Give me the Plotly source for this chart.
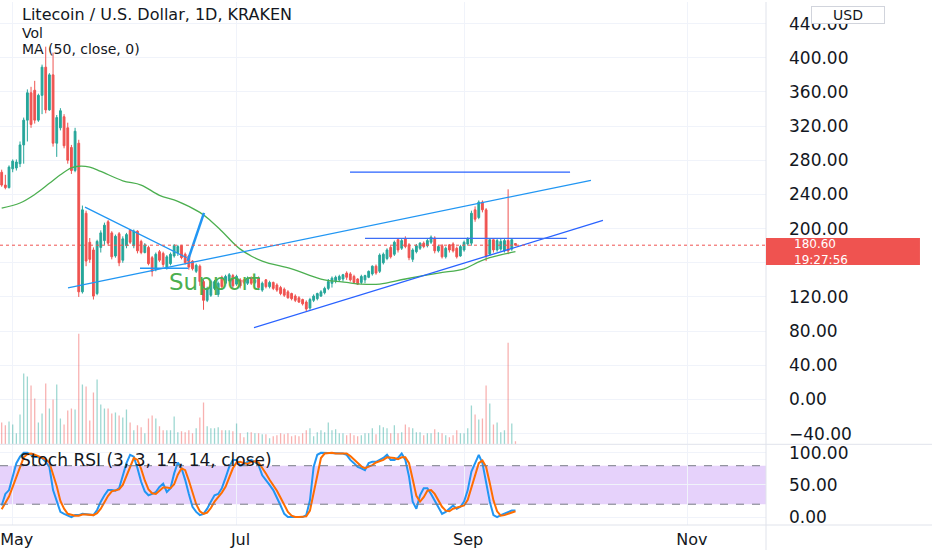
import pandas as pd
import plotly.graph_objects as go

# LTC/USD 1D (Kraken), 2021-04-28 .. 2021-09-15
open_ = [266, 251, 248,
         270, 271, 276, 298, 327, 359, 362, 327, 356, 389, 339, 380, 300, 318, 331, 318,
         295, 268, 300, 126, 218, 184, 175, 124, 178, 186, 208, 195, 168, 194, 163,
         180, 198, 180, 197, 185, 172, 178, 166, 152, 173, 171, 154, 159, 168, 172,
         180, 170, 168, 162, 150, 156, 138, 116, 122, 130, 123, 143, 136, 139, 145,
         135, 140, 140, 136, 142, 137, 142, 128, 140, 132, 137, 134, 131, 129, 126,
         124, 121, 119, 117, 114, 107, 116, 118, 121, 125, 130, 136, 139, 140, 141, 148,
         147, 144, 141, 137, 140, 143, 147, 156, 150, 160, 165, 178, 170, 187, 177,
         188, 181, 164, 173, 177, 183, 180, 184, 189, 174, 180, 167, 181, 182, 177, 168,
         175, 182, 183, 222, 213, 231, 222, 170, 187, 175, 176, 174, 186, 176, 182.5]
high = [269, 263, 274,
        281, 281, 302, 330, 363, 366, 373, 358, 392, 413, 382, 406, 333, 341, 334, 324,
        298, 318, 304, 227, 221, 189, 178, 187, 198, 207, 210, 197, 193, 196, 191,
        195, 199, 199, 198, 187, 183, 180, 168, 172, 175, 173, 169, 172, 182, 181,
        181, 172, 169, 163, 159, 158, 140, 132, 140, 140, 138, 145, 146, 148, 147,
        146, 142, 141, 144, 144, 141, 144, 138, 141, 139, 138, 136, 133, 131, 128,
        125, 123, 121, 118, 116, 119, 123, 125, 128, 132, 141, 144, 145, 146, 147, 150,
        149, 146, 142, 146, 146, 151, 157, 158, 171, 172, 177, 180, 186, 189, 188,
        191, 183, 177, 182, 184, 185, 188, 192, 191, 181, 182, 179, 182, 184, 179, 181,
        186, 190, 221, 226, 233, 233, 224, 189, 189, 188, 188, 188, 246, 189, 183]
low = [249, 246, 247,
       266, 268, 272, 276, 302, 318, 323, 325, 334, 335, 338, 296, 284, 315, 294, 276,
       264, 266, 120, 124, 156, 160, 117, 122, 172, 181, 180, 164, 166, 156, 160,
       177, 182, 177, 171, 170, 171, 157, 144, 150, 161, 155, 152, 157, 166, 168,
       164, 158, 152, 151, 148, 133, 105, 114, 120, 128, 120, 130, 134, 137, 130,
       133, 130, 135, 134, 134, 135, 128, 126, 130, 130, 128, 126, 122, 120, 118,
       116, 114, 113, 110, 103, 105, 114, 116, 120, 123, 128, 131, 136, 138, 138, 140,
       138, 136, 134, 135, 136, 142, 145, 146, 148, 158, 163, 165, 168, 172, 175,
       177, 163, 161, 171, 175, 177, 178, 182, 171, 172, 165, 165, 172, 172, 165, 167,
       173, 180, 180, 208, 211, 219, 162, 168, 172, 173, 174, 172, 170, 174, 180]
close = [251, 248, 272,
         279, 278, 298, 327, 359, 322, 327, 356, 389, 339, 380, 300, 330, 338, 297, 280,
         268, 314, 126, 222, 162, 164, 121, 185, 195, 204, 183, 167, 191, 160, 188,
         193, 184, 197, 174, 172, 181, 159, 150, 170, 163, 158, 167, 170, 180, 179,
         166, 160, 155, 153, 157, 138, 116, 130, 138, 138, 136, 132, 144, 146, 133,
         144, 133, 137, 142, 136, 140, 131, 136, 132, 137, 130, 128, 124, 122, 119,
         118, 116, 114, 112, 106, 117, 121, 124, 126, 130, 138, 142, 143, 144, 146, 143,
         140, 137, 135, 144, 145, 150, 156, 148, 169, 170, 175, 167, 184, 175, 186,
         179, 166, 175, 180, 183, 179, 186, 190, 174, 179, 167, 177, 175, 174, 167, 179,
         184, 188, 218, 211, 231, 222, 168, 187, 175, 186, 185, 186, 174, 187, 180.6]
volume = [22, 19, 23,  # 10k LTC
          20, 11, 30, 71, 68, 59, 46, 22, 31, 61, 36, 45, 60, 26, 20, 34,
          36, 35, 111, 60, 58, 24, 52, 65, 40, 36, 36, 31, 32, 29, 27,
          35, 22, 14, 19, 17, 11, 26, 29, 26, 18, 14, 14, 14, 28, 12,
          13, 12, 14, 11, 16, 27, 42, 18, 16, 16, 17, 14, 14, 14, 13,
          21, 11, 7, 12, 12, 11, 11, 10, 10, 6, 8, 9, 11, 10, 11,
          8, 9, 8, 11, 14, 16, 8, 12, 14, 12, 22, 14, 15, 11, 11, 9,
          11, 9, 8, 9, 11, 11, 16, 10, 19, 17, 16, 11, 19, 11, 12,
          20, 17, 16, 12, 12, 9, 11, 11, 15, 12, 11, 9, 7, 9, 14, 11,
          11, 16, 39, 30, 25, 26, 59, 41, 20, 22, 12, 14, 102, 21, 3]
stoch_k = [18, 36, 42,
           63, 84, 94, 100, 100, 97, 94, 93, 92, 86, 78, 42, 26, 8, 5, 3,
           0, 3, 3, 5, 4, 3, 3, 11, 24, 34, 42, 42, 41, 45, 63,
           84, 97, 94, 76, 55, 40, 34, 36, 39, 47, 52, 39, 45, 68, 85,
           76, 58, 36, 16, 8, 3, 5, 13, 24, 34, 36, 45, 61, 78, 89,
           89, 80, 82, 86, 89, 86, 81, 65, 58, 50, 42, 31, 18, 5, 0,
           0, 0, 0, 0, 3, 26, 78, 97, 100, 100, 100, 99, 99, 100, 99, 97,
           89, 84, 78, 76, 73, 84, 86, 86, 89, 92, 97, 89, 89, 92, 99,
           89, 63, 24, 13, 34, 45, 45, 36, 26, 16, 5, 8, 13, 18, 13, 16,
           24, 42, 71, 84, 97, 84, 52, 24, 3, 0, 3, 5, 8, 10, 10]
stoch_d = [12, 22, 32,
           47, 63, 80, 93, 98, 99, 97, 95, 93, 90, 85, 68, 48, 25, 13, 5,
           3, 2, 2, 4, 4, 4, 3, 6, 13, 23, 33, 40, 42, 43, 50,
           64, 81, 92, 89, 75, 57, 43, 37, 36, 41, 46, 46, 45, 51, 66,
           76, 73, 57, 37, 20, 9, 5, 7, 14, 24, 31, 38, 47, 61, 76,
           85, 86, 84, 83, 86, 87, 85, 77, 68, 58, 50, 41, 30, 18, 8,
           2, 0, 0, 0, 1, 10, 36, 67, 92, 99, 100, 100, 99, 99, 99, 99,
           95, 90, 84, 79, 76, 78, 81, 85, 87, 89, 93, 93, 92, 90, 93,
           93, 84, 59, 33, 24, 31, 41, 42, 36, 26, 16, 10, 9, 13, 15, 16,
           18, 27, 46, 66, 84, 88, 78, 53, 26, 9, 2, 3, 5, 8, 9]

# MA(50) read at a few dates along the green line
ma_dates = ["2021-04-28", "2021-05-03", "2021-05-07", "2021-05-11", "2021-05-14",
            "2021-05-17", "2021-05-19", "2021-05-22", "2021-05-25", "2021-05-31",
            "2021-06-05", "2021-06-10", "2021-06-15", "2021-06-21", "2021-06-24",
            "2021-06-27", "2021-07-02", "2021-07-08", "2021-07-16", "2021-07-24",
            "2021-07-31", "2021-08-04", "2021-08-09", "2021-08-16", "2021-08-25",
            "2021-09-01", "2021-09-05", "2021-09-08", "2021-09-15"]
ma50 = [224, 230, 240, 253, 263, 271, 273, 272, 267, 256, 251, 239, 232, 219, 209,
        197, 176, 162, 153, 141, 137, 135, 135, 141, 148, 153, 161, 166, 173]

# hand drawn trend lines (start, end) in date / price
tri_top = (["2021-05-20 16:48", "2021-06-17 09:50"], [225.1, 165.9])
tri_base = (["2021-06-04 16:30", "2021-06-17 20:25"], [153.6, 153.6])
breakout = (["2021-06-17 16:20", "2021-06-22 03:00"], [162.1, 218.4])
channel_up = (["2021-05-16 01:40", "2021-10-05 13:40"], [130.6, 256.6])
channel_low = (["2021-07-05 18:00", "2021-10-08 20:10"], [84.0, 209.6])
range_mid = (["2021-08-05", "2021-09-29"], [188.6, 188.6])
range_top = (["2021-07-31 22:00", "2021-09-29 21:00"], [266.2, 266.2])

price_ticks = list(range(-40, 441, 40))
stoch_ticks = [0, 50, 100]
countdown = "19:27:56"

dates = pd.date_range("2021-04-28", periods=len(close), freq="D")

UP = "#26a69a"
DOWN = "#ef5350"
TXT = "#131722"
GRID = "#f0f3fa"
BORDER = "#e0e3eb"
FONT = "DejaVu Sans"
x_range = ["2021-04-27 13:00", "2021-11-22 06:30"]

fig = go.Figure()

vol_colors = ["rgba(38,166,154,0.45)" if c >= o else "rgba(239,83,80,0.45)"
              for o, c in zip(open_, close)]
fig.add_trace(go.Bar(x=dates, y=volume, marker_color=vol_colors, marker_line_width=0,
                     width=0.35 * 86400000, xaxis="x", yaxis="y3", hoverinfo="skip"))

fig.add_trace(go.Candlestick(
    x=dates, open=open_, high=high, low=low, close=close, xaxis="x", yaxis="y",
    increasing=dict(line=dict(color=UP, width=1), fillcolor=UP),
    decreasing=dict(line=dict(color=DOWN, width=1), fillcolor=DOWN),
    whiskerwidth=0))

fig.add_trace(go.Scatter(x=ma_dates, y=ma50, mode="lines", line=dict(color="#4caf50", width=1.3),
                         line_shape="spline", xaxis="x", yaxis="y"))

for (xs, ys), col, w in [(tri_top, "#2196f3", 1.3), (tri_base, "#2196f3", 1.3),
                         (breakout, "#2196f3", 2.5), (channel_up, "#2196f3", 1.3),
                         (channel_low, "#2962ff", 1.3), (range_mid, "#3d6ef5", 1.3),
                         (range_top, "#2962ff", 1.3)]:
    fig.add_trace(go.Scatter(x=xs, y=ys, mode="lines", line=dict(color=col, width=w),
                             xaxis="x", yaxis="y"))

fig.add_trace(go.Scatter(x=dates, y=stoch_k, mode="lines", line=dict(color="#2196f3", width=2),
                         xaxis="x2", yaxis="y2"))
fig.add_trace(go.Scatter(x=dates, y=stoch_d, mode="lines", line=dict(color="#ff6d00", width=2),
                         xaxis="x2", yaxis="y2"))

last = close[-1]
shapes = [
    # stoch band
    dict(type="rect", xref="x2 domain", yref="y2", x0=0, x1=1, y0=20, y1=80,
         fillcolor="#e6d2fb", line_width=0, layer="below"),
    dict(type="line", xref="x2 domain", yref="y2", x0=0, x1=1, y0=80, y1=80,
         line=dict(color="#787b86", width=1, dash="8px,8px")),
    dict(type="line", xref="x2 domain", yref="y2", x0=0, x1=1, y0=20, y1=20,
         line=dict(color="#787b86", width=1, dash="8px,8px")),
    # last price line
    dict(type="line", xref="x domain", yref="y", x0=0, x1=1, y0=last, y1=last,
         line=dict(color=DOWN, width=1, dash="dot")),
    # pane borders
    dict(type="line", xref="paper", yref="paper", x0=0, x1=1.22, y0=0.1543, y1=0.1543,
         line=dict(color=BORDER, width=1)),
    dict(type="line", xref="paper", yref="paper", x0=0, x1=1.22, y0=0, y1=0,
         line=dict(color=BORDER, width=1)),
    dict(type="line", xref="paper", yref="paper", x0=1, x1=1, y0=-0.05, y1=1,
         line=dict(color=BORDER, width=1)),
    # price label box
    dict(type="rect", xref="paper", yref="y", x0=1, x1=1.201, y0=157.4, y1=188.9,
         fillcolor=DOWN, line_width=0, layer="above"),
]

# the 160 label sits under the last-price box, as on the screenshot
price_text = ["" if v == 160 else f"{v:.2f}".replace("-", "\u2212") for v in price_ticks]

ann = [
    dict(text="Litecoin / U.S. Dollar, 1D, KRAKEN", x=0.026, y=0.976, size=16),
    dict(text="Vol", x=0.026, y=0.941, size=14),
    dict(text="MA (50, close, 0)", x=0.026, y=0.9095, size=14),
    dict(text="Stoch RSI (3, 3, 14, 14, close)", x=0.023, y=0.124, size=17),
]
annotations = []
for a in ann:
    annotations.append(dict(text=a["text"], x=a["x"], y=a["y"], xref="paper", yref="paper",
                            xanchor="left", yanchor="middle", showarrow=False,
                            font=dict(family=FONT, size=a["size"], color=TXT)))
annotations += [
    dict(text="Support", x="2021-06-25 03:00", y=137.6, xref="x", yref="y", showarrow=False,
         font=dict(family=FONT, size=23, color="#4caf50")),
    dict(text=f"{last:.2f}<br>{countdown}", x=1.034, y=172.6, xref="paper", yref="y",
         xanchor="left", yanchor="middle", align="left", showarrow=False,
         font=dict(family=FONT, size=12, color="white")),
    dict(text="USD", x=1.107, y=0.9745, xref="paper", yref="paper", xanchor="center",
         yanchor="middle", showarrow=False, bgcolor="white", bordercolor="#d1d4dc",
         borderwidth=1, borderpad=0, width=72, font=dict(family=FONT, size=14, color=TXT)),
]

axis_x = dict(range=x_range, tick0="2021-05-01", dtick="M2", showgrid=True, gridcolor=GRID,
              zeroline=False, showline=False, ticks="")
fig.update_layout(
    width=932, height=550, margin=dict(l=0, r=166, t=0, b=25),
    paper_bgcolor="white", plot_bgcolor="white", showlegend=False,
    font=dict(family=FONT, color=TXT),
    xaxis=dict(axis_x, domain=[0, 1], anchor="y", showticklabels=False,
               rangeslider=dict(visible=False)),
    xaxis2=dict(axis_x, domain=[0, 1], anchor="y2", tickformat="%b",
                tickfont=dict(family=FONT, size=16, color=TXT), ticklabelstandoff=3,
                ticklabelshift=4, ticklabeloverflow="allow"),
    yaxis=dict(domain=[0.1543, 1], range=[-52.5, 465.3], side="right", tickvals=price_ticks,
               ticktext=price_text, tickfont=dict(family=FONT, size=17, color=TXT),
               ticklabelstandoff=22, showgrid=True, gridcolor=GRID, zeroline=False, ticks=""),
    yaxis3=dict(overlaying="y", range=[0, 444], visible=False),
    yaxis2=dict(domain=[0, 0.1524], range=[-12.4, 111.8], side="right", tickvals=stoch_ticks,
                tickformat=".2f", tickfont=dict(family=FONT, size=17, color=TXT),
                ticklabelstandoff=22, showgrid=True, gridcolor=GRID, zeroline=False, ticks=""),
    shapes=shapes, annotations=annotations,
)

# the page body has a default 8px margin; drop it so the chart sits at the window corner
fig.write_html("out.html", config={"displayModeBar": False},
               post_script="document.body.style.margin='0';")
